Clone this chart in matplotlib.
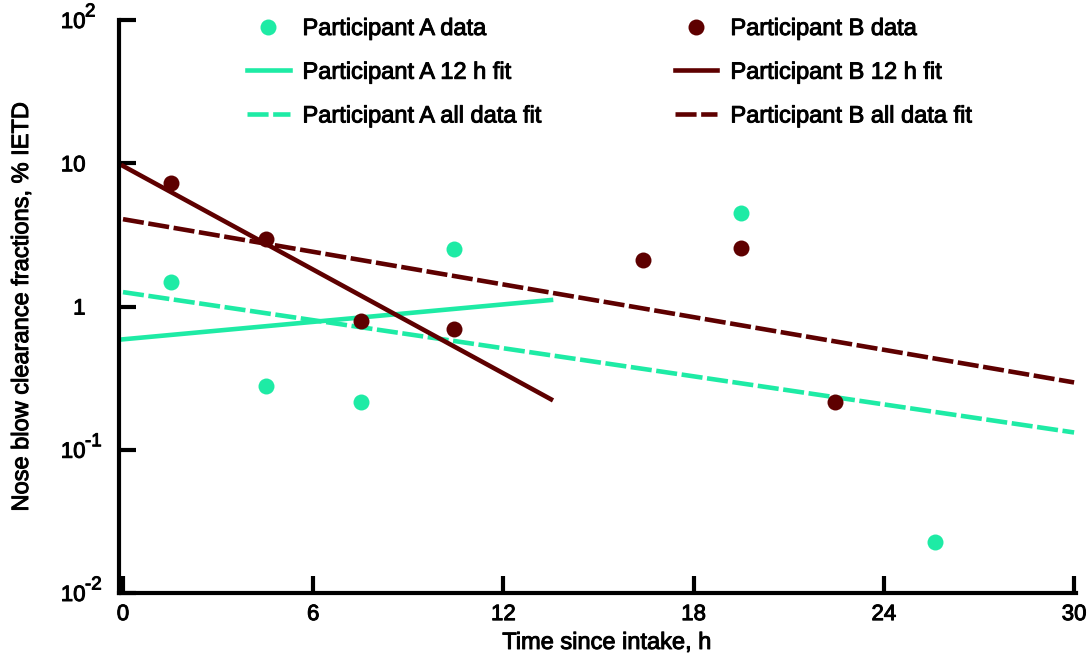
import numpy as np
import matplotlib
matplotlib.use("Agg")
import matplotlib.pyplot as plt
import matplotlib.patheffects as pe

plt.rcParams['font.family'] = ['Liberation Sans', 'DejaVu Sans']

# measured data
a_time = [1.5, 4.5, 7.5, 10.45, 19.5, 25.6]
a_frac = [1.49, 0.279, 0.214, 2.54, 4.46, 0.0228]
b_time = [1.5, 4.5, 7.5, 10.45, 16.4, 19.5, 22.45]
b_frac = [7.3, 2.95, 0.79, 0.695, 2.10, 2.55, 0.214]

# fitted lines (end points, straight on log scale)
a_fit12_t = [0, 13.5]
a_fit12_y = [0.59, 1.11]
a_fitall_t = [0, 30]
a_fitall_y = [1.26, 0.132]
b_fit12_t = [0, 13.5]
b_fit12_y = [9.58, 0.225]
b_fitall_t = [0, 30]
b_fitall_y = [4.07, 0.295]

xticks = [0, 6, 12, 18, 24, 30]
yticks = [1e-2, 1e-1, 1, 10, 1e2]
ytick_base = ['10', '10', '1', '10', '10']
ytick_exp = ['-2', '-1', '', '', '2']

green = '#1EEBA5'
dred = '#5E0000'
lw = 3.3
dash = (4.6, 1.0)
bold = [pe.withStroke(linewidth=0.7, foreground='black')]

fig = plt.figure(figsize=(10.87, 6.57), dpi=100)
ax = fig.add_axes([119 / 1087, 1 - 593 / 657, 957 / 1087, 573 / 657])

h1, = ax.plot(a_time, a_frac, 'o', color=green, ms=11.5, mec='none',
              label='Participant A data')
h2, = ax.plot(a_fit12_t, a_fit12_y, '-', color=green, lw=lw,
              label='Participant A 12 h fit')
h3, = ax.plot(a_fitall_t, a_fitall_y, '--', color=green, lw=lw, dashes=dash,
              label='Participant A all data fit')
h4, = ax.plot(b_time, b_frac, 'o', color=dred, ms=11.5, mec='none',
              label='Participant B data')
h5, = ax.plot(b_fit12_t, b_fit12_y, '-', color=dred, lw=lw,
              label='Participant B 12 h fit')
h6, = ax.plot(b_fitall_t, b_fitall_y, '--', color=dred, lw=lw, dashes=dash,
              label='Participant B all data fit')

ax.set_yscale('log')
ax.set_xlim(-0.126, 30.06)
ax.set_ylim(1e-2, 1e2)
ax.set_xticks(xticks)
ax.set_xticklabels([str(t) for t in xticks])
ax.set_yticks(yticks)
ax.set_yticklabels(ytick_base)
ax.yaxis.set_minor_locator(matplotlib.ticker.NullLocator())

for s in ['top', 'right']:
    ax.spines[s].set_visible(False)
for s in ['left', 'bottom']:
    ax.spines[s].set_linewidth(3)
ax.tick_params(axis='both', direction='in', length=12.5, width=3, labelsize=16)
ax.tick_params(axis='y', pad=24)
ax.tick_params(axis='x', pad=8)

# exponents hang to the right of the "10"
for yv, ex in zip(yticks, ytick_exp):
    if ex:
        ax.annotate(ex, xy=(0, yv), xycoords=('axes fraction', 'data'),
                    xytext=(-34, 8), textcoords='offset pixels',
                    ha='left', va='center', fontsize=13.5, path_effects=bold,
                    annotation_clip=False)

ax.set_xlabel('Time since intake, h', fontsize=17)
ax.xaxis.set_label_coords(0.51, -0.068)
ax.set_ylabel('Nose blow clearance fractions, % IETD', fontsize=17, labelpad=20)

leg = fig.legend(handles=[h1, h2, h3, h4, h5, h6], ncol=2, frameon=False,
                 loc='upper left', bbox_to_anchor=(247 / 1087, 1 - 18 / 657),
                 fontsize=17, handlelength=1.8, handletextpad=0.55,
                 columnspacing=5.6, labelspacing=0.92, borderpad=0,
                 borderaxespad=0)

for t in (ax.get_xticklabels() + ax.get_yticklabels() + leg.get_texts()
          + [ax.xaxis.label, ax.yaxis.label]):
    t.set_path_effects(bold)

fig.savefig('out.png', dpi=100)
